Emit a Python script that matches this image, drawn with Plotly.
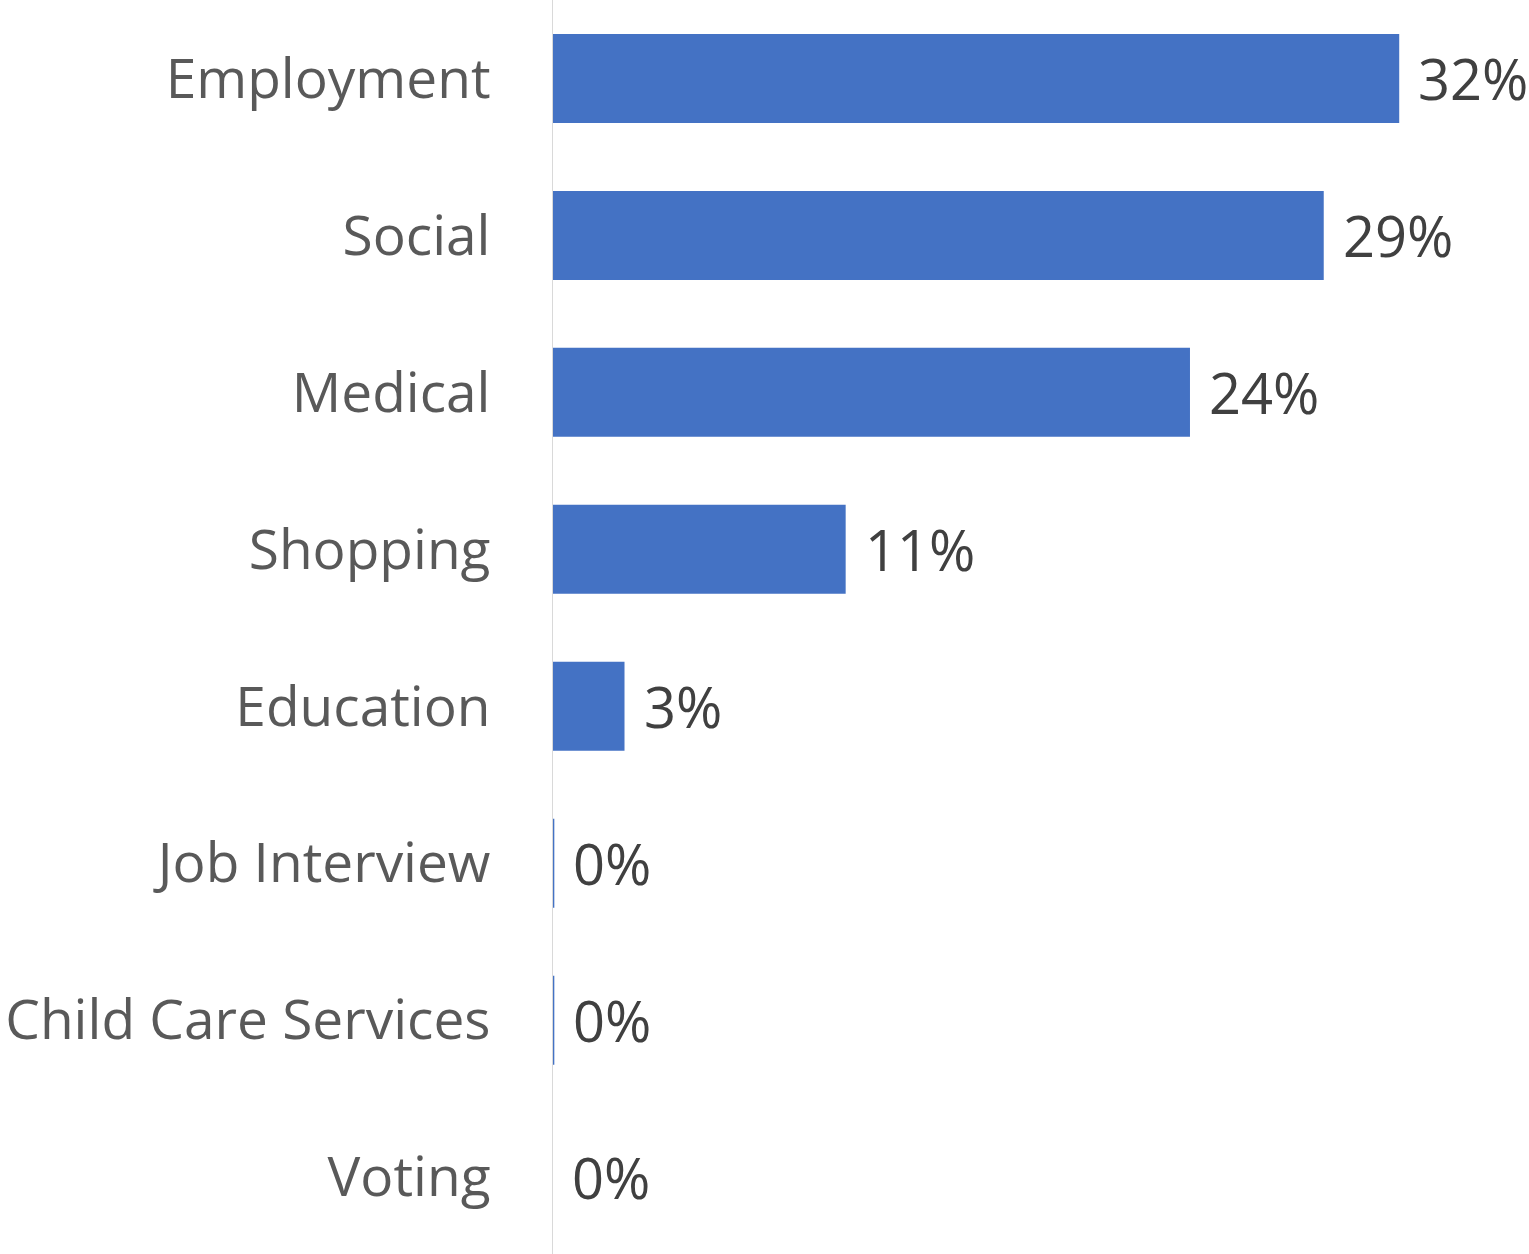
import plotly.graph_objects as go

categories = ["Employment", "Social", "Medical", "Shopping", "Education",
              "Job Interview", "Child Care Services", "Voting"]
values = [31.95, 29.1, 24.05, 11.05, 2.7, 0.05, 0.05, 0.0]
labels = ["32%", "29%", "24%", "11%", "3%", "0%", "0%", "0%"]

FONT = "Open Sans, Noto Sans, sans-serif"

fig = go.Figure()
fig.add_trace(go.Bar(
    y=categories, x=values, orientation="h",
    marker=dict(color="#4472C4", line=dict(width=0)),
    hoverinfo="skip",
))

for c, v, t in zip(categories, values, labels):
    fig.add_annotation(x=v, y=c, text=t, showarrow=False, xanchor="left",
                       xshift=17, font=dict(family=FONT, size=56, color="#404040"))

fig.update_layout(
    width=1529, height=1254,
    margin=dict(l=553, r=0, t=0, b=0),
    plot_bgcolor="white", paper_bgcolor="white",
    bargap=0.433,
    showlegend=False,
    xaxis=dict(range=[0, 36.85], visible=False, fixedrange=True),
    yaxis=dict(range=[7.49, -0.5], showline=True, linecolor="#d9d9d9", linewidth=1.5,
               showgrid=False, ticks="", ticklabelstandoff=50, fixedrange=True,
               tickfont=dict(family=FONT, size=55, color="#595959")),
)

fig.write_html("out.html", config={"displayModeBar": False, "staticPlot": True},
               post_script="document.body.style.margin='0';document.body.style.overflow='hidden';")
